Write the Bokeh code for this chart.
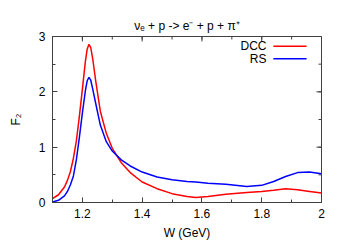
from math import pi
from bokeh.plotting import figure
from bokeh.models import Range1d, FixedTicker, LinearAxis, Label
from bokeh.embed import file_html
from bokeh.resources import INLINE

w = [1.10, 1.12, 1.14, 1.15, 1.16, 1.17, 1.18, 1.19, 1.20, 1.21, 1.216, 1.222, 1.228,
     1.235, 1.245, 1.26, 1.28, 1.30, 1.33, 1.36, 1.40, 1.45, 1.50, 1.55, 1.58, 1.62,
     1.68, 1.75, 1.80, 1.84, 1.88, 1.92, 1.96, 2.00]
dcc = [0.07, 0.14, 0.28, 0.40, 0.56, 0.80, 1.12, 1.56, 2.05, 2.55, 2.77, 2.86, 2.80,
       2.58, 2.18, 1.65, 1.25, 0.98, 0.72, 0.54, 0.37, 0.25, 0.16, 0.11, 0.09, 0.11,
       0.15, 0.18, 0.20, 0.22, 0.25, 0.23, 0.20, 0.17]
rs = [0.01, 0.04, 0.12, 0.20, 0.32, 0.48, 0.78, 1.18, 1.62, 2.02, 2.20, 2.26, 2.21,
      2.04, 1.78, 1.40, 1.10, 0.93, 0.77, 0.66, 0.55, 0.46, 0.41, 0.38, 0.37, 0.35,
      0.33, 0.29, 0.31, 0.38, 0.47, 0.54, 0.55, 0.52]

x_major = [1.2, 1.4, 1.6, 1.8, 2.0]
x_minor = [1.1, 1.2, 1.3, 1.4, 1.5, 1.6, 1.7, 1.8, 1.9, 2.0]
x_labels = {1.2: "1.2", 1.4: "1.4", 1.6: "1.6", 1.8: "1.8", 2.0: "2"}
y_major = [0, 1, 2, 3]
y_minor = [0, 0.5, 1, 1.5, 2, 2.5, 3]
series_names = ["DCC", "RS"]
series_colors = ["#ff0000", "#0000ff"]
title_text = "νₑ + p -> e⁻ + p + π⁺"
x_title = "W (GeV)"
y_title = "F₂"

FONT = "Liberation Sans"
AX = "#404040"
X0, X1, Y0, Y1 = 1.1, 2.0, 0, 3

p = figure(width=339, height=242, output_backend="svg", toolbar_location=None,
           x_range=Range1d(X0, X1), y_range=Range1d(Y0, Y1),
           min_border_left=52, min_border_right=18, min_border_top=36, min_border_bottom=39,
           x_axis_location=None, y_axis_location=None, title=title_text)
p.grid.visible = False
p.outline_line_color = AX
p.outline_line_width = 1
p.background_fill_color = "white"
p.border_fill_color = "white"
p.title.align = "center"
p.title.text_font = FONT
p.title.text_font_size = "12px"
p.title.text_font_style = "normal"
p.title.text_color = "black"
p.title.standoff = 8


def style_axis(ax, ticks, minors):
    ax.ticker = FixedTicker(ticks=ticks, minor_ticks=minors)
    ax.major_tick_in = 5
    ax.major_tick_out = 0
    ax.minor_tick_in = 3
    ax.minor_tick_out = 0
    ax.axis_line_color = AX
    ax.major_tick_line_color = AX
    ax.minor_tick_line_color = AX
    ax.major_label_text_font = FONT
    ax.major_label_text_font_size = "12px"
    ax.major_label_text_color = "black"
    ax.axis_label_text_font = FONT
    ax.axis_label_text_font_size = "12px"
    ax.axis_label_text_font_style = "normal"
    ax.axis_label_text_color = "black"


xb = LinearAxis(axis_label=x_title)
style_axis(xb, x_major, x_minor)
xb.major_label_overrides = x_labels
xb.major_label_standoff = 6
xb.axis_label_standoff = 5
p.add_layout(xb, "below")

yl = LinearAxis(axis_label=y_title)
style_axis(yl, y_major, y_minor)
yl.major_label_standoff = 7
yl.axis_label_standoff = 13
p.add_layout(yl, "left")

# mirrored inward ticks on top and right borders (gnuplot style)
p.ray(x=x_major, y=[Y1] * len(x_major), length=5, angle=-pi / 2,
      length_units="screen", line_color=AX, line_width=1)
p.ray(x=x_minor, y=[Y1] * len(x_minor), length=3, angle=-pi / 2,
      length_units="screen", line_color=AX, line_width=1)
p.ray(x=[X1] * len(y_major), y=y_major, length=5, angle=pi,
      length_units="screen", line_color=AX, line_width=1)
p.ray(x=[X1] * len(y_minor), y=y_minor, length=3, angle=pi,
      length_units="screen", line_color=AX, line_width=1)

p.line(w, dcc, line_color=series_colors[0], line_width=1.5)
p.line(w, rs, line_color=series_colors[1], line_width=1.5)

# legend (gnuplot style: text then sample)
leg_y = [2.824, 2.598]
for name, col, yy in zip(series_names, series_colors, leg_y):
    p.add_layout(Label(x=1.816, y=yy, text=name, text_align="right", text_baseline="middle",
                       text_font=FONT, text_font_size="12px", text_color="black"))
    p.segment(x0=[1.839], y0=[yy], x1=[1.950], y1=[yy], line_color=col, line_width=1.5)

open("out.html", "w").write(file_html(p, INLINE))
